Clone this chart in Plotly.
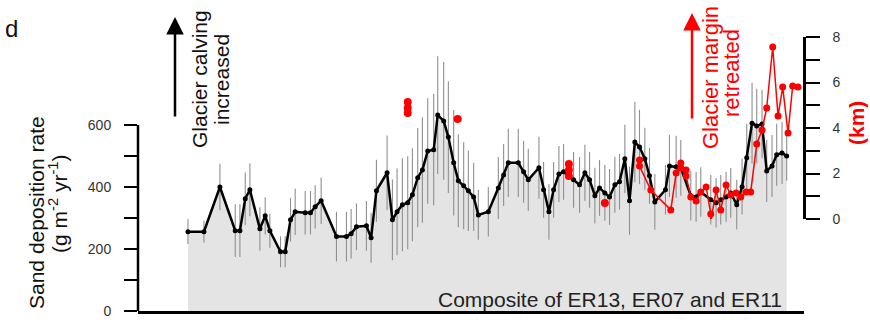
import plotly.graph_objects as go

# ---- data ----
comp_x = [7.5, 9.9, 12.3, 14.6, 15.3, 16.1, 16.8, 18.3, 19.1, 19.8, 21.4, 22.1, 22.9, 23.6, 25.1, 25.9,
          26.6, 27.5, 29.8, 31.3, 32.0, 32.8, 34.3, 35.0, 35.8, 37.4, 38.2, 38.9, 39.7, 40.5, 41.2, 42.0,
          42.7, 43.5, 44.4, 45.0, 45.9, 46.6, 47.4, 48.1, 48.9, 49.6, 50.4, 51.1, 52.6, 54.1, 54.9, 55.6,
          57.1, 57.9, 58.6, 60.2, 60.9, 61.7, 62.4, 63.2, 63.9, 65.4, 66.3, 67.1, 67.8, 68.6, 69.3, 70.1,
          70.8, 71.6, 72.3, 73.1, 73.8, 74.6, 75.3, 76.1, 76.8, 77.6, 79.2, 79.8, 80.8, 81.5, 83.0, 83.8,
          84.5, 86.0, 86.8, 87.5, 88.3, 89.0, 89.9, 90.7, 91.4, 92.2, 92.9, 93.7, 94.4, 95.2, 95.9, 96.7, 97.4]
sand_rate = [256, 256, 400, 259, 259, 362, 391, 265, 307, 259, 191, 191, 294, 320, 317, 317,
             336, 356, 240, 240, 249, 272, 275, 236, 388, 446, 294, 320, 343, 349, 375, 430,
             455, 516, 520, 632, 613, 561, 478, 420, 404, 388, 368, 310, 320, 397, 439, 478,
             478, 449, 423, 462, 391, 320, 391, 442, 449, 423, 407, 446, 423, 372, 397, 381,
             368, 407, 417, 491, 356, 545, 529, 491, 436, 352, 391, 468, 465, 462, 372, 368,
             384, 359, 349, 359, 368, 381, 343, 401, 494, 606, 597, 603, 452, 468, 504, 510, 500]
sand_err = [40, 35, 75, 85, 85, 85, 85, 70, 60, 55, 50, 50, 70, 75, 70, 70,
            70, 75, 80, 80, 80, 75, 80, 80, 100, 120, 130, 140, 150, 150, 150, 160,
            170, 170, 180, 190, 190, 180, 170, 150, 140, 130, 110, 80, 80, 100, 100, 110,
            110, 100, 100, 100, 90, 90, 90, 90, 90, 90, 90, 90, 90, 90, 90, 90,
            90, 90, 90, 110, 110, 130, 120, 100, 90, 90, 80, 100, 100, 90, 80, 80,
            80, 80, 80, 80, 80, 80, 80, 90, 110, 130, 120, 110, 100, 100, 100, 100, 80]

margin_pts_x = [40.5, 40.5, 40.5, 48.0, 64.7, 64.7, 64.7, 70.1]
margin_pts_km = [5.14, 4.88, 4.66, 4.40, 2.42, 2.15, 1.89, 0.70]

margin_line_x = [75.3, 75.3, 77.0, 80.0, 80.8, 81.5, 81.5, 82.3, 82.3, 83.0, 83.8, 84.5, 85.3, 86.0,
                 86.0, 86.8, 87.5, 88.3, 89.0, 89.8, 90.5, 91.3, 92.0, 92.9, 93.7, 94.4, 95.3, 96.1,
                 96.8, 97.6, 98.3, 99.1]
margin_line_km = [2.59, 2.33, 1.27, 0.40, 2.02, 2.46, 2.24, 2.15, 1.89, 0.97, 0.79, 1.19, 1.41, 0.22,
                  -0.13, 1.27, 0.40, 1.49, 1.05, 1.14, 0.97, 1.19, 1.19, 3.30, 3.91, 4.88, 7.56, 4.53,
                  5.80, 3.78, 5.85, 5.80]

left_major = [0, 200, 400, 600]
left_minor = [100, 300, 500]
right_major = [0, 2, 4, 6, 8]
right_minor = [1, 3, 5, 7]

FONT = "Liberation Sans, Arial, sans-serif"
RED = "#ff0000"

# ---- geometry helpers (pixel -> paper) ----
W, H = 870, 324
ML, MR, MT, MB = 138, 66, 30, 13
PW, PH = W - ML - MR, H - MT - MB


def px(xp):
    return (xp - ML) / PW


def py(yp):
    return (H - MB - yp) / PH


y_top = 600 * PH / ((H - MB) - 125)

fig = go.Figure()

# gray fill under the composite curve
fig.add_trace(go.Scatter(x=comp_x, y=sand_rate, mode="lines", line=dict(width=0, color="#e4e4e4"),
                         fill="tozeroy", fillcolor="#e4e4e4", hoverinfo="skip", showlegend=False))
# error bars
fig.add_trace(go.Scatter(x=comp_x, y=sand_rate, mode="markers", marker=dict(size=1, opacity=0),
                         error_y=dict(type="data", array=sand_err, visible=True, color="#8f8f8f",
                                      thickness=1.1, width=0),
                         showlegend=False))
# composite line
fig.add_trace(go.Scatter(x=comp_x, y=sand_rate, mode="lines+markers",
                         line=dict(color="black", width=2.5),
                         marker=dict(color="black", size=5), showlegend=False))
# glacier margin (km) on right axis
fig.add_trace(go.Scatter(x=margin_line_x, y=margin_line_km, mode="lines+markers", xaxis="x", yaxis="y2",
                         line=dict(color=RED, width=1.5), marker=dict(color=RED, size=7),
                         cliponaxis=False, showlegend=False))
fig.add_trace(go.Scatter(x=margin_pts_x, y=margin_pts_km, mode="markers", xaxis="x", yaxis="y2",
                         marker=dict(color=RED, size=8), cliponaxis=False, showlegend=False))

tick_style = dict(ticks="outside", tickwidth=2, tickcolor="black")
fig.update_layout(
    width=W, height=H,
    margin=dict(l=ML, r=MR, t=MT, b=MB, autoexpand=False),
    paper_bgcolor="white", plot_bgcolor="rgba(0,0,0,0)",
    font=dict(family=FONT, color="#333"),
    xaxis=dict(range=[0, 100], showline=True, linewidth=2.5, linecolor="black", automargin=False,
               showticklabels=False, ticks="", showgrid=False, zeroline=False),
    yaxis=dict(range=[0, y_top], tickmode="array", tickvals=left_major, ticklen=13, **tick_style,
               minor=dict(tickmode="array", tickvals=left_minor, ticklen=13, showgrid=False, **tick_style),
               showline=False, showgrid=False, zeroline=False,
               tickfont=dict(size=14, color="#333"), ticklabelstandoff=10, automargin=False),
    yaxis2=dict(range=[0, 8], domain=[py(219), py(37)], anchor="free", position=1, side="right",
                tickmode="array", tickvals=right_major, ticklen=14, **tick_style,
                minor=dict(tickmode="array", tickvals=right_minor, ticklen=14, showgrid=False, **tick_style),
                showline=True, linewidth=2.5, linecolor="black", showgrid=False,
                zeroline=False, tickfont=dict(size=14, color="#333"), ticklabelstandoff=10,
                automargin=False),
)

# left axis spine limited to 0..600
fig.add_shape(type="line", xref="paper", yref="y", x0=0, x1=0, y0=0, y1=600,
              line=dict(color="black", width=2.5))


def label(text, xp, yp, size, color, angle=0, xanchor="center"):
    return dict(text=text, x=px(xp), y=py(yp), xref="paper", yref="paper", xanchor=xanchor,
                yanchor="middle", textangle=angle, showarrow=False, font=dict(size=size, color=color))


ann = [
    label("d", 3, 29, 24, "#111", xanchor="left"),
    label("Sand deposition rate", 36, 213, 21, "#111", -90),
    label("(g m<sup>-2</sup> yr<sup>-1</sup>)", 58, 204, 21, "#111", -90),
    label("Glacier calving", 199, 79, 21, "#111", -90),
    label("increased", 221, 80, 21, "#111", -90),
    label("Glacier margin", 710, 78, 22, RED, -90),
    label("retreated", 732, 73, 22, RED, -90),
    label("<b>(km)</b>", 856, 123, 21, RED, -90),
    label("Composite of ER13, ER07 and ER11", 610, 299, 21, "#222"),
]
# arrows
ann.append(dict(text="", x=px(175), y=py(17), xref="paper", yref="paper", showarrow=True,
                ax=0, ay=101, arrowhead=2, arrowsize=1.4, arrowwidth=2.5, arrowcolor="black", standoff=0))
ann.append(dict(text="", x=px(692), y=py(13), xref="paper", yref="paper", showarrow=True,
                ax=0, ay=107, arrowhead=2, arrowsize=1.4, arrowwidth=2.5, arrowcolor=RED, standoff=0))
fig.update_layout(annotations=ann)

fig.write_html("out.html", config={"displayModeBar": False},
               post_script="document.body.style.margin='0';")
